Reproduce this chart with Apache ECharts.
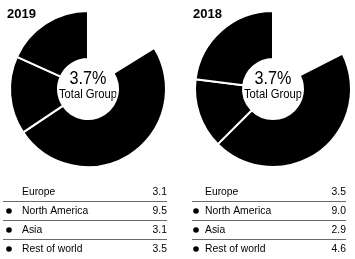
<!DOCTYPE html>
<html><head><meta charset="utf-8">
<script src="https://cdn.jsdelivr.net/npm/echarts@6/dist/echarts.min.js"></script>
<style>html,body{margin:0;padding:0;background:#fff}#c{width:355px;height:259px}</style>
</head><body><div id="c"></div>
<script>
const categories = ['Europe', 'North America', 'Asia', 'Rest of world'];
const values2019 = [3.1, 9.5, 3.1, 3.5];
const values2018 = [3.5, 9.0, 2.9, 4.6];
const years = ['2019', '2018'];
const centerValue = ['3.7%', '3.7%'];
const centerLabel = 'Total Group';

const FONT = '"Liberation Sans", Arial, sans-serif';
const sliceColors = ['#ffffff', '#000000', '#000000', '#000000'];
const panels = [
  { vals: values2019, cx: 88, cy: 89, titleX: 7, tblL: 3, tblR: 167, bulletX: 9, textX: 22 },
  { vals: values2018, cx: 273, cy: 89, titleX: 193, tblL: 192, tblR: 346, bulletX: 196, textX: 205 }
];
const rowY = [192, 211, 230, 249];
const lineY = [201, 220, 239];
const SX = 0.9;

const chart = echarts.init(document.getElementById('c'), null, { renderer: 'canvas' });
const series = [];
const graphic = [];
panels.forEach((p, i) => {
  series.push({
    type: 'pie', center: [p.cx, p.cy], radius: [30, 78], startAngle: 90, clockwise: true,
    silent: true, label: { show: false }, labelLine: { show: false },
    itemStyle: { borderColor: '#fff', borderWidth: 2 },
    data: categories.map((c, k) => ({ name: c, value: p.vals[k], itemStyle: { color: sliceColors[k] } }))
  });
  graphic.push({ type: 'text', x: p.titleX, y: 14, style: { text: years[i], font: 'bold 13px ' + FONT, fill: '#000', verticalAlign: 'middle' } });
  graphic.push({ type: 'text', x: p.cx, y: p.cy - 10, scaleX: SX, style: { text: centerValue[i], font: '18px ' + FONT, fill: '#000', align: 'center', verticalAlign: 'middle' } });
  graphic.push({ type: 'text', x: p.cx, y: p.cy + 6, scaleX: SX, style: { text: centerLabel, font: '12.5px ' + FONT, fill: '#000', align: 'center', verticalAlign: 'middle' } });
  categories.forEach((c, k) => {
    if (k > 0) graphic.push({ type: 'circle', shape: { cx: p.bulletX, cy: rowY[k], r: 2.8 }, style: { fill: '#000' } });
    graphic.push({ type: 'text', x: p.textX, y: rowY[k], scaleX: SX, style: { text: c, font: '11.5px ' + FONT, fill: '#000', verticalAlign: 'middle' } });
    graphic.push({ type: 'text', x: p.tblR, y: rowY[k], scaleX: SX, style: { text: p.vals[k].toFixed(1), font: '11.5px ' + FONT, fill: '#000', align: 'right', verticalAlign: 'middle' } });
  });
  lineY.forEach(y => graphic.push({ type: 'line', shape: { x1: p.tblL, y1: y + 0.5, x2: p.tblR, y2: y + 0.5 }, style: { stroke: '#6a6a6a', lineWidth: 1 } }));
});
chart.setOption({ animation: false, series, graphic });
</script></body></html>
